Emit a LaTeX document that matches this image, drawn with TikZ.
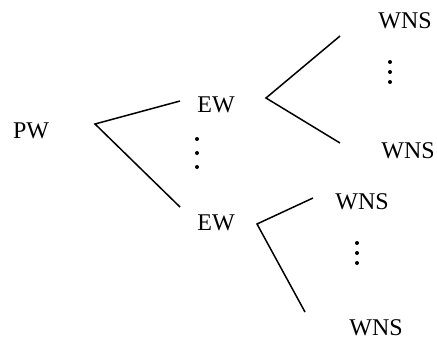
\documentclass[tikz,border=0pt]{standalone}
\usepackage{fontspec}
\setmainfont{Liberation Serif}
\usepackage{tikz}

\begin{document}
\begin{tikzpicture}[x=0.5pt,y=-0.5pt,
    lbl/.style={font=\fontsize{12}{14}\selectfont, inner sep=0pt},
    fork/.style={line width=0.75pt},
    dot/.style={shape=circle, inner sep=0pt, minimum size=2pt, fill}]
    \useasboundingbox (0,0) rectangle (437,338);

    \node[lbl] (pw) at (31,131) {PW};
    \node[lbl] (ewa) at (216,105) {EW};
    \node[lbl] (ewb) at (216,223) {EW};
    \node[lbl] (wnsa) at (405,21) {WNS};
    \node[lbl] (wnsb) at (408,151) {WNS};
    \node[lbl] (wnsc) at (362,202) {WNS};
    \node[lbl] (wnsd) at (376,328) {WNS};

    % branch points and loose ends
    \coordinate (pwfork) at (95,124);
    \coordinate (pwup) at (180,101);
    \coordinate (pwdown) at (180,207);
    \coordinate (ewafork) at (266,98);
    \coordinate (ewaup) at (340,36);
    \coordinate (ewadown) at (340,143);
    \coordinate (ewbfork) at (257,224);
    \coordinate (ewbup) at (313,198);
    \coordinate (ewbdown) at (305,312);

    \draw[fork] (pwup) -- (pwfork) -- (pwdown);
    \draw[fork] (ewaup) -- (ewafork) -- (ewadown);
    \draw[fork] (ewbup) -- (ewbfork) -- (ewbdown);

    \foreach \y [count=\i] in {139,153,167} \node[dot] (ewdot\i) at (197,\y) {};
    \foreach \y [count=\i] in {62,72,82} \node[dot] (wnsadot\i) at (390,\y) {};
    \foreach \y [count=\i] in {243,253,263} \node[dot] (wnsbdot\i) at (357,\y) {};
\end{tikzpicture}
\end{document}
